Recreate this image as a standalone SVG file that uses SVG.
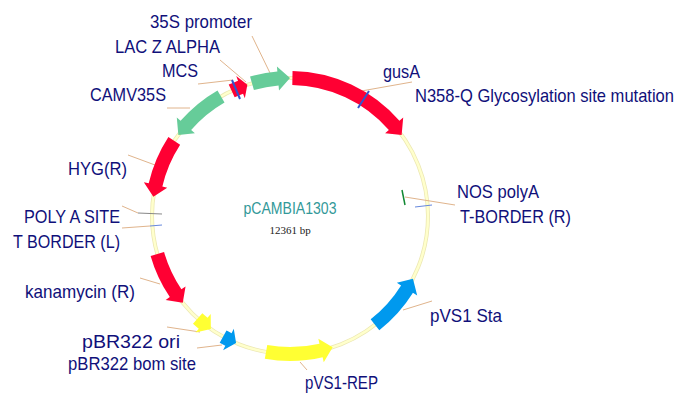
<svg xmlns="http://www.w3.org/2000/svg" width="685" height="407" viewBox="0 0 685 407">
<style>
.lbl{font-family:"Liberation Sans",Arial,sans-serif;font-size:19px;fill:#10107a}
.ld{stroke:#e0b48c;stroke-width:1;fill:none}
.red{fill:#ff0033}.grn{fill:#66cc99}.yel{fill:#ffff33}.blu{fill:#0099ee}
</style>
<rect width="685" height="407" fill="#fff"/>
<g id="ring">
<circle cx="290" cy="216" r="138" fill="none" stroke="#ecE8b4" stroke-width="4"/>
<circle cx="290" cy="216" r="138" fill="none" stroke="#ffffcc" stroke-width="2.4"/>
</g>
<g id="connectors">
<path class="ld" d="M252 36 L270 73"/>
<path class="ld" d="M220 60 L246 82"/>
<path class="ld" d="M198 84 L233 80"/>
<path class="ld" d="M167 108 L190 108"/>
<path class="ld" d="M350 93 L412 82"/>
<path class="ld" d="M128 155 L155 165"/>
<path class="ld" d="M122 206 L138 213"/>
<path d="M138 213 L162 214" stroke="#888" stroke-width="1"/>
<path class="ld" d="M122 228 L150 226"/>
<path d="M150 226 L162 225" stroke="#6688dd" stroke-width="1"/>
<path class="ld" d="M405 197 L455 205"/>
<path d="M415 207 L432 205" stroke="#6688dd" stroke-width="1"/>
<path class="ld" d="M140 278 L160 284"/>
<path class="ld" d="M167 327 L200 332"/>
<path class="ld" d="M197 348 L222 345"/>
<path class="ld" d="M300 362 L307 370"/>
<path class="ld" d="M403 310 L432 301"/>
</g>
<g id="f-mcs"><path class="red" d="M228.72 84.59 A145 145 0 0 1 238.03 80.63 L236.24 75.96 L247.36 84.75 L244.84 98.37 L243.05 93.70 A131 131 0 0 0 234.64 97.27 Z"/>
<path d="M232 80 L240 99" stroke="#3355cc" stroke-width="2"/></g>
<g id="f-35s"><path class="grn" d="M250.04 76.61 A145 145 0 0 1 277.36 71.55 L276.92 66.57 L290 78 L279.01 90.48 L278.58 85.50 A131 131 0 0 0 253.90 90.07 Z"/></g>
<g id="f-gusa"><path class="red" d="M292.54 71.03 A145 145 0 0 1 399.43 120.87 L403.21 117.58 L401.64 134.88 L385.09 133.33 L388.87 130.05 A131 131 0 0 0 292.29 85.03 Z"/>
<path d="M369 91 L358 108" stroke="#3355cc" stroke-width="2"/></g>
<g id="f-camv"><path class="grn" d="M217.5 90.43 A145 145 0 0 0 180.57 120.87 L176.79 117.58 L178.36 134.88 L194.91 133.33 L191.13 130.05 A131 131 0 0 1 224.5 102.55 Z"/></g>
<g id="f-hyg"><path class="red" d="M168.39 137.03 A145 145 0 0 0 148.71 183.37 L143.84 182.25 L153.34 196.79 L167.23 187.65 L162.35 186.52 A131 131 0 0 1 180.13 144.66 Z"/></g>
<g id="f-kan"><path class="red" d="M150.61 255.96 A145 145 0 0 0 169.79 297.08 L165.65 299.88 L182.76 302.84 L185.55 286.46 L181.40 289.26 A131 131 0 0 1 164.07 252.10 Z"/></g>
<g id="f-ori"><path class="yel" d="M192.98 323.75 A145 145 0 0 0 198.75 328.68 L195.60 332.57 L210.84 329.05 L210.71 313.91 L207.56 317.80 A131 131 0 0 1 202.35 313.35 Z"/></g>
<g id="f-bom"><path class="blu" d="M219.70 342.82 A145 145 0 0 0 225.30 345.76 L223.07 350.24 L236.08 343.03 L233.78 328.76 L231.55 333.23 A131 131 0 0 1 226.49 330.57 Z"/></g>
<g id="f-rep"><path class="yel" d="M264.83 358.80 A145 145 0 0 0 322.63 357.29 L323.75 362.16 L332.64 347.25 L318.35 338.77 L319.48 343.65 A131 131 0 0 1 267.26 345.01 Z"/></g>
<g id="f-sta"><path class="blu" d="M379.28 330.26 A145 145 0 0 0 412.96 292.84 L417.2 295.49 L412.96 278.65 L396.85 282.77 L401.09 285.42 A131 131 0 0 1 370.66 319.23 Z"/></g>
<g id="f-nos"><path d="M402 190 L405 205" stroke="#118833" stroke-width="1.5"/></g>
<g id="labels">
<text class="lbl" x="150" y="28" textLength="102" lengthAdjust="spacingAndGlyphs">35S promoter</text>
<text class="lbl" x="115" y="53" textLength="105" lengthAdjust="spacingAndGlyphs">LAC Z ALPHA</text>
<text class="lbl" x="162" y="77" textLength="36" lengthAdjust="spacingAndGlyphs">MCS</text>
<text class="lbl" x="90" y="101" textLength="76" lengthAdjust="spacingAndGlyphs">CAMV35S</text>
<text class="lbl" x="383" y="78" textLength="37" lengthAdjust="spacingAndGlyphs">gusA</text>
<text class="lbl" x="415" y="102" textLength="259" lengthAdjust="spacingAndGlyphs">N358-Q Glycosylation site mutation</text>
<text class="lbl" x="68" y="175" textLength="59" lengthAdjust="spacingAndGlyphs">HYG(R)</text>
<text class="lbl" x="457" y="198" textLength="82" lengthAdjust="spacingAndGlyphs">NOS polyA</text>
<text class="lbl" x="24" y="223" textLength="96" lengthAdjust="spacingAndGlyphs">POLY A SITE</text>
<text class="lbl" x="460" y="223" textLength="111" lengthAdjust="spacingAndGlyphs">T-BORDER (R)</text>
<text class="lbl" x="13" y="248" textLength="107" lengthAdjust="spacingAndGlyphs">T BORDER (L)</text>
<text class="lbl" x="25" y="298" textLength="110" lengthAdjust="spacingAndGlyphs">kanamycin (R)</text>
<text class="lbl" x="430" y="322" textLength="72" lengthAdjust="spacingAndGlyphs">pVS1 Sta</text>
<text class="lbl" x="82" y="348" textLength="98" lengthAdjust="spacingAndGlyphs">pBR322 ori</text>
<text class="lbl" x="68" y="370" textLength="128" lengthAdjust="spacingAndGlyphs">pBR322 bom site</text>
<text class="lbl" x="305" y="389" textLength="73" lengthAdjust="spacingAndGlyphs">pVS1-REP</text>
</g>
<g id="center">
<text x="290" y="214" text-anchor="middle" font-family="Liberation Sans,Arial,sans-serif" font-size="17" fill="#339999" textLength="93" lengthAdjust="spacingAndGlyphs">pCAMBIA1303</text>
<text x="290" y="234" text-anchor="middle" font-family="Liberation Serif,serif" font-size="11" fill="#222">12361 bp</text>
</g>
</svg>
